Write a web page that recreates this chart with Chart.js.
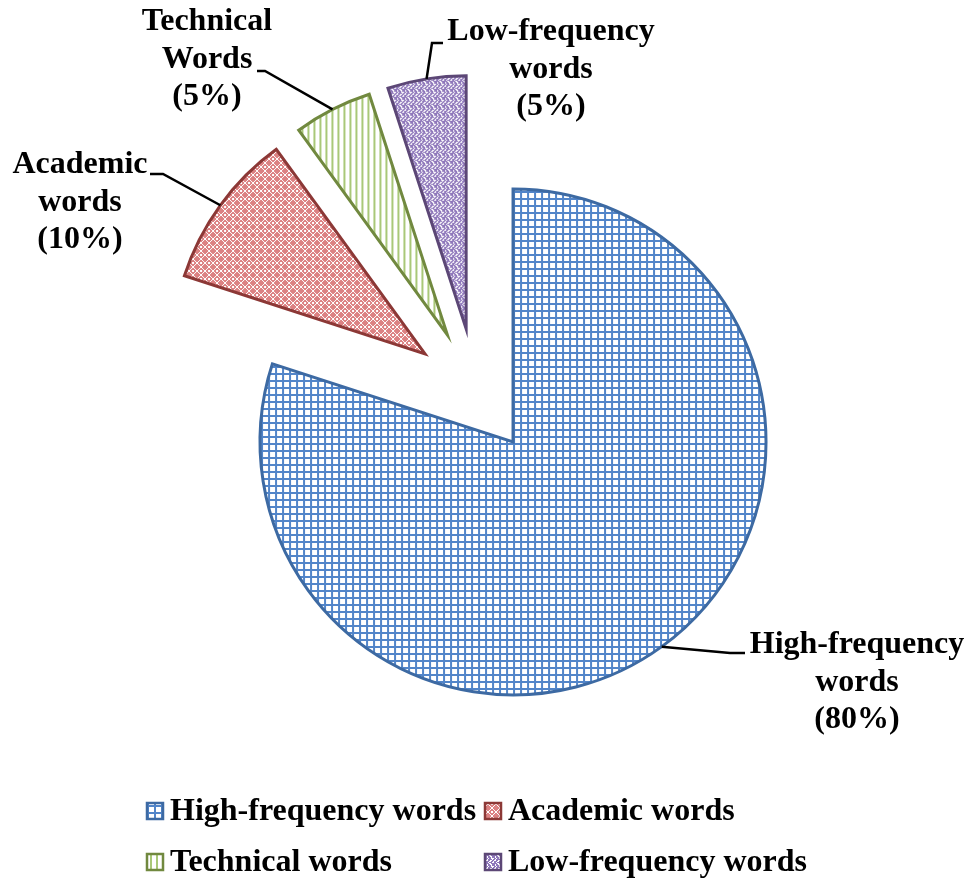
<!DOCTYPE html>
<html>
<head>
<meta charset="utf-8">
<script src="https://cdn.jsdelivr.net/npm/chart.js@4"></script>
<style>
  html, body { margin: 0; padding: 0; background: #fff; }
  canvas { display: block; }
</style>
</head>
<body>
<canvas id="wordChart" width="971" height="880"></canvas>
<script>
// data
const categories = ['High-frequency words', 'Academic words', 'Technical words', 'Low-frequency words'];
const shares = [80, 10, 5, 5];
const calloutNames = [['High-frequency', 'words'], ['Academic', 'words'], ['Technical', 'Words'], ['Low-frequency', 'words']];

const FONT = 'bold 32px "Liberation Serif", "Times New Roman", serif';
const EXPLODE = 63;

// callout layout: text centre, elbow of the leader line, end of leader line
const calloutLayout = [
    { tx: 857, ty: 645, ex: 730, ey: 653, endX: 745 },
    { tx: 80, ty: 165, ex: 163, ey: 174, endX: 150 },
    { tx: 207, ty: 22, ex: 265, ey: 71, endX: 257 },
    { tx: 551, ty: 32, ex: 432, ey: 43, endX: 443 }
];

function makeTile(size, paint) {
    const c = document.createElement('canvas');
    c.width = size; c.height = size;
    const g = c.getContext('2d');
    g.fillStyle = '#fff';
    g.fillRect(0, 0, size, size);
    paint(g);
    return g.createPattern(c, 'repeat');
}

function pixelTile(rows, color) {
    return makeTile(rows.length, g => {
        g.fillStyle = color;
        rows.forEach((r, y) => {
            for (let x = 0; x < r.length; x++) if (r[x] === 'x') g.fillRect(x, y, 1, 1);
        });
    });
}

const gridFill = makeTile(7, g => {
    g.fillStyle = '#5285c9';
    g.fillRect(0, 0, 7, 2);
    g.fillRect(0, 0, 2, 7);
});

const diamondFill = pixelTile([
    'xxx..xxx',
    'xx.xx.xx',
    'x.xxxx.x',
    '.xx..xx.',
    '.xx..xx.',
    'x.xxxx.x',
    'xx.xx.xx',
    'xxx..xxx'
], '#dc8283');

const stripeFill = makeTile(6, g => {
    g.fillStyle = '#a9c878';
    g.fillRect(0, 0, 2, 6);
});

const weaveFill = pixelTile([
    'xx..xxx.',
    'xxx.xxx.',
    '.xx...xx',
    'xxxx.xx.',
    'xx..xx..',
    'x..xx.xx',
    '.xxx..xx',
    'x..xxxxx'
], '#8f78bb');

const fills = [gridFill, diamondFill, stripeFill, weaveFill];
const borders = ['#3d6aa3', '#8c3836', '#71893f', '#5c4776'];

// pushes every slice out from the centre along its middle angle
const explodePlugin = {
    id: 'explode',
    afterDatasetsUpdate(chart) {
        chart.getDatasetMeta(0).data.forEach(arc => {
            if (arc._wrapped) return;
            const orig = arc.draw;
            arc.draw = function (ctx, area) {
                const mid = (this.startAngle + this.endAngle) / 2;
                ctx.save();
                ctx.translate(Math.cos(mid) * EXPLODE, Math.sin(mid) * EXPLODE);
                orig.call(this, ctx, area);
                ctx.restore();
            };
            arc._wrapped = true;
        });
    }
};

// callout labels with leader lines
const calloutPlugin = {
    id: 'callouts',
    afterDatasetsDraw(chart) {
        const ctx = chart.ctx;
        const arcs = chart.getDatasetMeta(0).data;
        ctx.save();
        ctx.font = FONT;
        ctx.fillStyle = '#000';
        ctx.strokeStyle = '#000';
        ctx.lineWidth = 2.5;
        ctx.textAlign = 'center';
        ctx.textBaseline = 'middle';
        arcs.forEach((arc, i) => {
            const lay = calloutLayout[i];
            const mid = (arc.startAngle + arc.endAngle) / 2;
            const r = EXPLODE + arc.outerRadius;
            const ax = arc.x + Math.cos(mid) * r;
            const ay = arc.y + Math.sin(mid) * r;
            ctx.beginPath();
            ctx.moveTo(ax, ay);
            ctx.lineTo(lay.ex, lay.ey);
            ctx.lineTo(lay.endX, lay.ey);
            ctx.stroke();
            const lines = calloutNames[i].concat('(' + shares[i] + '%)');
            lines.forEach((t, k) => ctx.fillText(t, lay.tx, lay.ty + k * 37.5));
        });
        ctx.restore();
    }
};

// two-column legend under the pie
const legendPlugin = {
    id: 'gridLegend',
    afterDraw(chart) {
        const ctx = chart.ctx;
        const ds = chart.data.datasets[0];
        const cols = [146, 484];
        const rows = [811, 862];
        ctx.save();
        ctx.font = FONT;
        ctx.textBaseline = 'middle';
        ctx.textAlign = 'left';
        chart.data.labels.forEach((label, i) => {
            const x = cols[i % 2];
            const y = rows[Math.floor(i / 2)];
            ctx.fillStyle = ds.backgroundColor[i];
            ctx.fillRect(x, y - 9, 18, 18);
            ctx.strokeStyle = ds.borderColor[i];
            ctx.lineWidth = 2.5;
            ctx.strokeRect(x + 1, y - 8, 16, 16);
            ctx.fillStyle = '#000';
            ctx.fillText(label, x + 24, y + 1);
        });
        ctx.restore();
    }
};

new Chart(document.getElementById('wordChart').getContext('2d'), {
    type: 'pie',
    data: {
        labels: categories,
        datasets: [{
            data: shares,
            backgroundColor: fills,
            borderColor: borders,
            borderWidth: 3,
            borderJoinStyle: 'miter'
        }]
    },
    options: {
        responsive: false,
        animation: false,
        radius: 253,
        layout: { padding: { left: 0, right: 19, top: 0, bottom: 98 } },
        plugins: {
            legend: { display: false },
            tooltip: { enabled: false }
        }
    },
    plugins: [explodePlugin, calloutPlugin, legendPlugin]
});
</script>
</body>
</html>
